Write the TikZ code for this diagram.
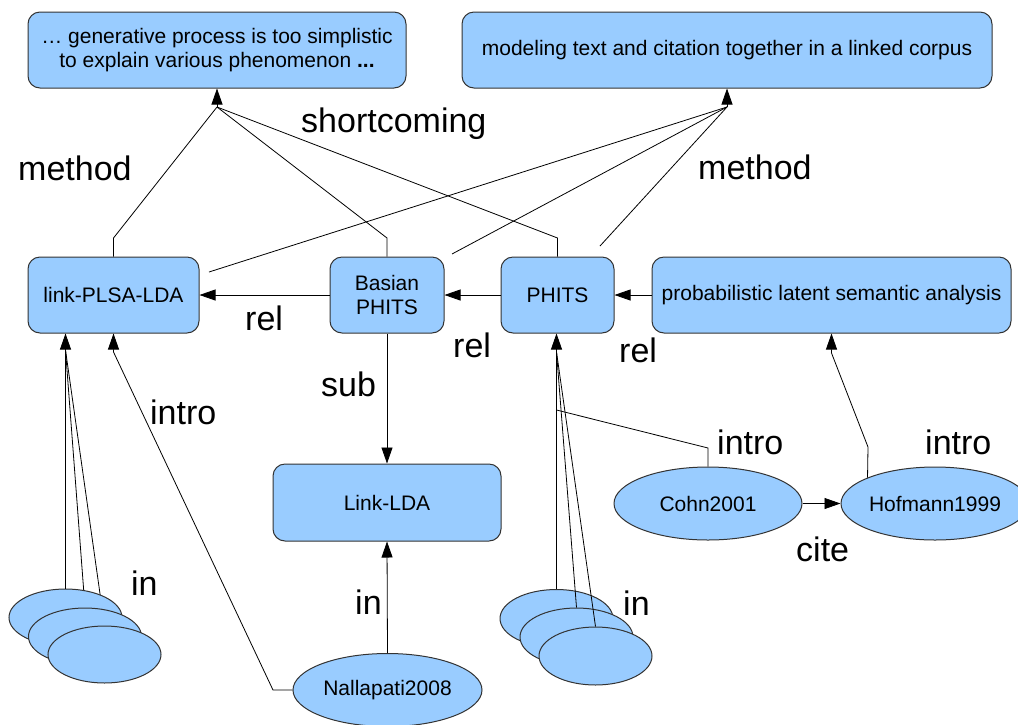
\documentclass[tikz,border=0pt]{standalone}
\usepackage{fontspec}
\setmainfont{Liberation Sans}
\usetikzlibrary{arrows.meta,shapes.geometric,backgrounds}
\definecolor{boxblue}{HTML}{99CCFF}
\newcommand\dgboxfont{\fontsize{21}{24}\selectfont}
\newcommand\dglblfont{\fontsize{34}{40}\selectfont}
\begin{document}
\begin{tikzpicture}[x=1pt,y=-1pt,
  box/.style={draw=black!80, line width=1pt, fill=boxblue, rounded corners=12pt,
    inner sep=0pt, font=\dgboxfont, align=center, minimum height=76pt},
  oval/.style={ellipse, draw=black!80, line width=1pt, fill=boxblue,
    inner sep=0pt, font=\dgboxfont},
  bigoval/.style={oval, minimum width=189pt, minimum height=73pt},
  stackoval/.style={oval, minimum width=113pt, minimum height=57pt},
  conn/.style={line width=0.8pt},
  arr/.style={conn, -{Triangle[length=16pt,width=11pt]}},
  lbl/.style={anchor=base west, inner sep=0pt, font=\dglblfont}]
\useasboundingbox (0,0) rectangle (1018,724);

% goal / topic boxes
\node[box, minimum width=378pt] (gen) at (217,50)
  {… generative process is too simplistic\\to explain various phenomenon \textbf{...}};
\node[box, minimum width=530pt] (modl) at (727,50)
  {modeling text and citation together in a linked corpus};

% model row
\node[box, minimum width=171pt] (plda) at (113.5,295) {link-PLSA-LDA};
\node[box, minimum width=114pt] (bph) at (387,295) {Basian\\PHITS};
\node[box, minimum width=113pt] (phits) at (557.5,295) {PHITS};
\node[box, minimum width=359pt] (plsa) at (831.5,295) {probabilistic latent semantic analysis};
\node[box, minimum width=228pt, minimum height=77pt] (llda) at (387,502.5) {Link-LDA};

% papers
\node[bigoval] (nal) at (387.5,690) {Nallapati2008};
\node[bigoval, minimum width=188pt] (cohn) at (708,503.5) {Cohn2001};
\node[bigoval, minimum width=188pt] (hof) at (935,503.5) {Hofmann1999};

\node[stackoval] (le1) at (65.5,617.5) {};
\node[stackoval] (le2) at (85,636.5) {};
\node[stackoval] (le3) at (104.5,654.5) {};

\node[stackoval, minimum height=58pt] (re1) at (556.5,618.5) {};
\node[stackoval, minimum height=58pt] (re2) at (576.5,637) {};
\node[stackoval, minimum height=58pt] (re3) at (595.5,656) {};

% junction and bend points
\coordinate (jg) at (217,107);
\coordinate (jm) at (727,107);
\coordinate (kp) at (113.5,238);
\coordinate (kb) at (387,238);
\coordinate (kh) at (557.5,238);
\coordinate (fp) at (209,272);
\coordinate (fb) at (452,254);
\coordinate (fh) at (600,246);
\coordinate (jl) at (65.5,350);
\coordinate (jr) at (556.5,352);
\coordinate (nb) at (273,690);
\coordinate (nc) at (113.5,352);
\coordinate (cb) at (708,448);
\coordinate (cj) at (556.5,410);
\coordinate (hb) at (868,447);
\coordinate (hc) at (831.5,353);

% shortcoming / method links to the top boxes
\draw[conn] (plda.north) -- (kp) -- (jg);
\draw[conn] (bph.north) -- (kb) -- (jg);
\draw[conn] (phits.north) -- (kh) -- (jg);
\draw[arr] (jg) -- (gen.south);
\draw[conn] (fp) -- (jm);
\draw[conn] (fb) -- (jm);
\draw[conn] (fh) -- (jm);
\draw[arr] (jm) -- (modl.south);

% relations between models
\draw[arr] (bph.west) -- (plda.east);
\draw[arr] (phits.west) -- (bph.east);
\draw[arr] (plsa.west) -- (phits.east);
\draw[arr] (bph.south) -- (llda.north);

% papers to models
\draw[arr] (nal.north) -- (llda.south);
\draw[arr] (nal.west) -- (nb) -- (nc) -- (plda.south);
\draw[arr] (le1.north) -- (le1.north |- plda.south);
\begin{scope}[on background layer]
  \draw[conn] (jl) -- (le2.north);
  \draw[conn] (jl) -- (le3.north);
\end{scope}
\draw[arr] (re1.north) -- (re1.north |- phits.south);
\draw[conn] (jr) -- (re2.north);
\draw[conn] (jr) -- (re3.north);
\draw[conn] (cohn.north) -- (cb) -- (cj);
\draw[arr] (hof.159) -- (hb) -- (hc) -- (plsa.south);
\draw[arr] (cohn.east) -- (hof.west);

% edge labels
\node[lbl] (tm1) at (18,180) {method};
\node[lbl] (ts) at (301,132) {shortcoming};
\node[lbl] (tm2) at (698,179) {method};
\node[lbl] (tr1) at (245,330) {rel};
\node[lbl] (tr2) at (453,357) {rel};
\node[lbl] (tr3) at (619,362) {rel};
\node[lbl] (tsub) at (321,396) {sub};
\node[lbl] (ti1) at (150,424) {intro};
\node[lbl] (ti2) at (717,454) {intro};
\node[lbl] (ti3) at (925,454) {intro};
\node[lbl] (tin1) at (131,595) {in};
\node[lbl] (tin2) at (355,614) {in};
\node[lbl] (tin3) at (623,615) {in};
\node[lbl] (tc) at (796,561) {cite};
\end{tikzpicture}
\end{document}
